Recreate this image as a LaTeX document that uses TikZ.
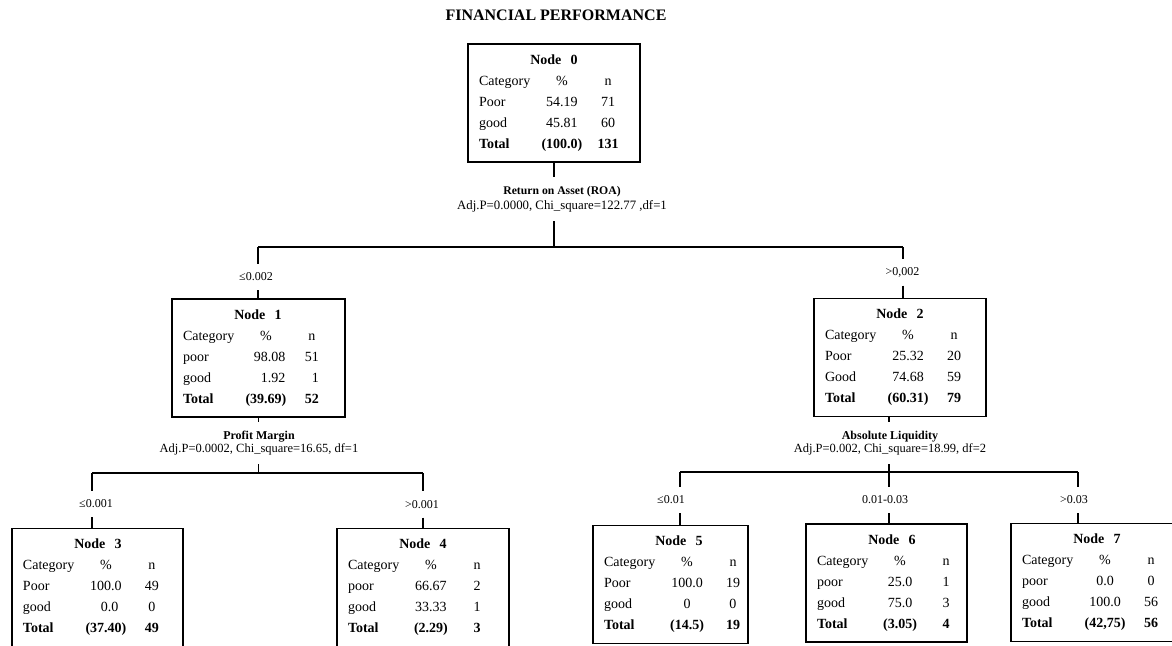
\documentclass[tikz,border=0pt]{standalone}
\usepackage{fontspec}
\setmainfont{Liberation Serif}
\usepackage{tikz}
\usetikzlibrary{positioning,calc}

% one row of a node table: category, percent, count
\newcommand{\tabrow}[3]{\makebox[0pt][l]{\makebox[58pt][l]{#1}\makebox[50pt][c]{#2}\makebox[42pt][c]{#3}}}
% whole node table
\newcommand{\nodetab}[9]{%
  \makebox[0pt][l]{\makebox[150pt][c]{\textbf{Node\ \ #1}}}\\
  \tabrow{Category}{\%}{n}\\
  \tabrow{#2}{#3}{#4}\\
  \tabrow{#5}{#6}{#7}\\
  {\bfseries\tabrow{Total}{#8}{#9}}}

\begin{document}
\begin{tikzpicture}[
    x=1pt, y=-1pt,
    tbox/.style={rectangle, draw, line width=1.8pt, text width=#1, inner xsep=11pt, inner ysep=0pt,
                 minimum height=118pt, align=left, font=\fontsize{14}{21}\selectfont},
    tbox/.default=150pt,
    split/.style={align=center, inner xsep=0pt, inner ysep=9pt},
    elabel/.style={font=\fontsize{12}{14}\selectfont, minimum height=26pt, inner sep=0pt},
    conn/.style={line width=1.5pt}
]
    \useasboundingbox (0,0) rectangle (1172,645);
    \clip (0,0) rectangle (1172,645);

    % Title
    \node[font=\fontsize{16}{18}\selectfont\bfseries] (title) at (556,15) {FINANCIAL PERFORMANCE};

    % Nodes
    \node[tbox] (n0) at (554,103) {\nodetab{0}{Poor}{54.19}{71}{good}{45.81}{60}{(100.0)}{131}};
    \node[tbox=151pt] (n1) at (258.5,358) {\nodetab{1}{poor}{\phantom{0}98.08}{51}{good}{\phantom{00}1.92}{\phantom{0}1}{(39.69)}{52}};
    \node[tbox] (n2) at (900,357.5) {\nodetab{2}{Poor}{25.32}{20}{Good}{74.68}{59}{(60.31)}{79}};
    \node[tbox=149pt] (n3) at (97.5,587.5) {\nodetab{3}{Poor}{100.0}{49}{good}{\phantom{0}0.0}{0}{(37.40)}{49}};
    \node[tbox] (n4) at (423,587.5) {\nodetab{4}{poor}{66.67}{2}{good}{33.33}{1}{(2.29)}{3}};
    \node[tbox=133pt] (n5) at (670.5,584.5) {\nodetab{5}{Poor}{100.0}{19}{good}{0}{0}{(14.5)}{19}};
    \node[tbox=139pt] (n6) at (886.5,583) {\nodetab{6}{poor}{25.0}{1}{good}{75.0}{3}{(3.05)}{4}};
    \node[tbox] (n7) at (1097,582.5) {\nodetab{7}{poor}{0.0}{0}{good}{100.0}{56}{(42,75)}{56}};

    % Split labels
    \node[split, font=\fontsize{12.8}{15}\selectfont] (s0) at (562,199)
        {{\fontsize{11.7}{15}\selectfont\bfseries Return on Asset (ROA)}\\Adj.P=0.0000, Chi\_square=122.77 ,df=1};
    \node[split, font=\fontsize{12.5}{13}\selectfont] (s1) at (259,443)
        {{\fontsize{12}{13}\selectfont\bfseries Profit Margin}\\Adj.P=0.0002, Chi\_square=16.65, df=1};
    \node[split, font=\fontsize{12.5}{13}\selectfont] (s2) at (890,443)
        {{\fontsize{12}{13}\selectfont\bfseries Absolute Liquidity}\\Adj.P=0.002, Chi\_square=18.99, df=2};

    % Edge labels
    \node[elabel] (e1) at (256,277) {≤0.002};
    \node[elabel] (e2) at (902.5,272.5) {>0,002};
    \node[elabel] (e3) at (96,504) {≤0.001};
    \node[elabel] (e4) at (422,504.5) {>0.001};
    \node[elabel] (e5) at (671,500) {≤0.01};
    \node[elabel] (e6) at (885,500) {0.01-0.03};
    \node[elabel] (e7) at (1074,500) {>0.03};

    % Bars
    \coordinate (b1) at (258,247);
    \coordinate (b2) at (903,247);
    \coordinate (b3) at (92,473);
    \coordinate (b4) at (423,473);
    \coordinate (b5) at (680,472);
    \coordinate (b6) at (889,472);
    \coordinate (b7) at (1078,472);

    % Connections
    \draw[conn] (n0.south) -- (n0.south |- s0.north);
    \draw[conn] (n0.south |- s0.south) -- (n0.south |- b1);
    \draw[conn] (b1) -- (b2);
    \draw[conn] (b1) -- (b1 |- e1.north);
    \draw[conn] (b1 |- e1.south) -- (b1 |- n1.north);
    \draw[conn] (b2) -- (b2 |- e2.north);
    \draw[conn] (b2 |- e2.south) -- (b2 |- n2.north);

    \draw[conn] (n1.south) -- (n1.south |- s1.north);
    \draw[conn] (n1.south |- s1.south) -- (n1.south |- b3);
    \draw[conn] (b3) -- (b4);
    \draw[conn] (b3) -- (b3 |- e3.north);
    \draw[conn] (b3 |- e3.south) -- (b3 |- n3.north);
    \draw[conn] (b4) -- (b4 |- e4.north);
    \draw[conn] (b4 |- e4.south) -- (b4 |- n4.north);

    \draw[conn] (b6 |- n2.south) -- (b6 |- s2.north);
    \draw[conn] (b6 |- s2.south) -- (b6);
    \draw[conn] (b5) -- (b7);
    \draw[conn] (b5) -- (b5 |- e5.north);
    \draw[conn] (b5 |- e5.south) -- (b5 |- n5.north);
    \draw[conn] (b6) -- (b6 |- e6.north);
    \draw[conn] (b6 |- e6.south) -- (b6 |- n6.north);
    \draw[conn] (b7) -- (b7 |- e7.north);
    \draw[conn] (b7 |- e7.south) -- (b7 |- n7.north);
\end{tikzpicture}
\end{document}
